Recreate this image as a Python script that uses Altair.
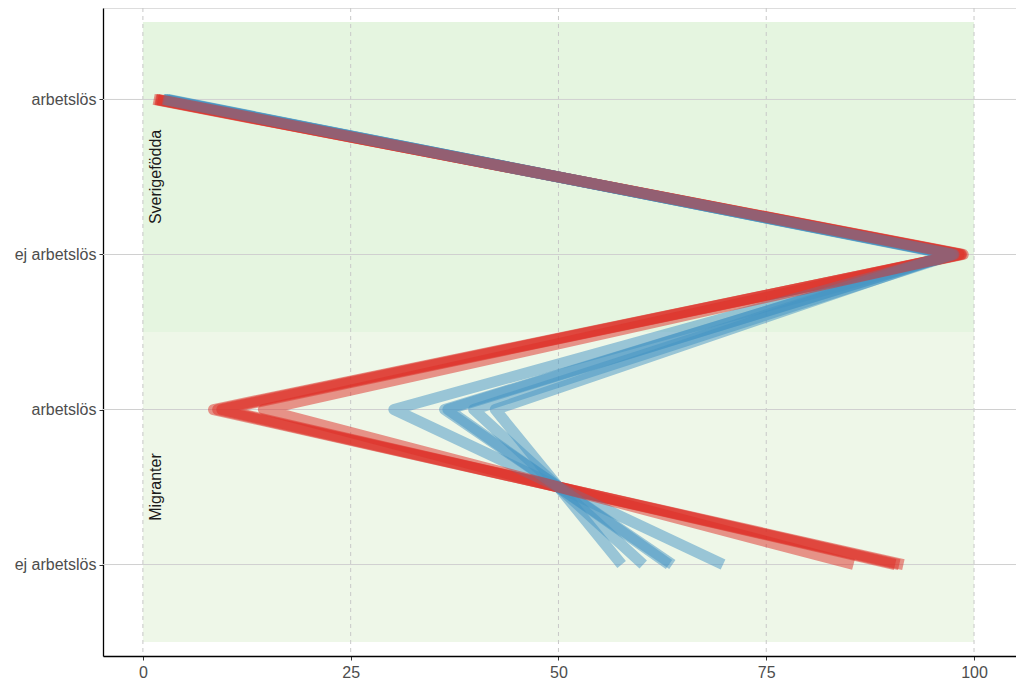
import altair as alt
import pandas as pd

# y positions of the four categories (top to bottom)
positions = [4, 3, 2, 1]
tick_labels = ["arbetslös", "ej arbetslös", "arbetslös", "ej arbetslös"]
group_names = ["Sverigefödda", "Migranter"]
group_label_pos = [3.5, 1.5]
x_ticks = [0, 25, 50, 75, 100]

# dark red series: Sverigefödda arbetslös, ej arbetslös, Migranter arbetslös, ej arbetslös
red_sv_arb = [1.3, 1.5, 1.6]
red_sv_ej = [98.7, 98.5, 98.4]
red_mig_arb = [8.5, 9.0, 9.5]
red_mig_ej = [91.5, 91.0, 90.5]

# light red series
lred_sv_arb = [1.8]
lred_sv_ej = [98.2]
lred_mig_arb = [14.5]
lred_mig_ej = [85.5]

# blue series
blue_sv_arb = [2.4, 2.6, 2.8, 2.5, 3.0]
blue_sv_ej = [97.6, 97.4, 97.2, 97.5, 97.0]
blue_mig_arb = [30.2, 36.3, 36.7, 39.8, 42.4]
blue_mig_ej = [69.8, 63.7, 63.3, 60.2, 57.6]


def build(prefix, cols):
    rows = []
    for i, vals in enumerate(zip(*cols)):
        for step, (p, v) in enumerate(zip(positions, vals)):
            rows.append({"line": f"{prefix}{i}", "step": step, "pos": p, "val": v})
    return pd.DataFrame(rows)


red_df = build("r", [red_sv_arb, red_sv_ej, red_mig_arb, red_mig_ej])
lred_df = build("l", [lred_sv_arb, lred_sv_ej, lred_mig_arb, lred_mig_ej])
blue_df = build("b", [blue_sv_arb, blue_sv_ej, blue_mig_arb, blue_mig_ej])

bg_df = pd.DataFrame({
    "x0": [0, 0], "x1": [100, 100],
    "y0": [2.5, 0.5], "y1": [4.5, 2.5],
    "fill": ["#e5f5e0", "#eef7e8"],
})
label_df = pd.DataFrame({"name": group_names, "pos": group_label_pos, "val": [1.6, 1.6]})
xgrid_df = pd.DataFrame({"val": x_ticks})
ygrid_df = pd.DataFrame({"pos": positions})

W, H = 913, 648
xscale = alt.Scale(domain=[-4.8, 105.05], nice=False, zero=False)
yscale = alt.Scale(domain=[0.41, 4.59], nice=False, zero=False)

label_expr = "datum.value == 4 || datum.value == 2 ? 'arbetslös' : 'ej arbetslös'"
axis_style = dict(
    grid=False, title=None,
    domainColor="#000000", domainWidth=1.3,
    tickColor="#333333", tickSize=4, tickWidth=1,
    labelFont="Liberation Sans", labelFontSize=16, labelColor="#4d4d4d",
)
xax = alt.Axis(values=x_ticks, labelPadding=4, **axis_style)
yax = alt.Axis(values=positions, labelExpr=label_expr, labelPadding=3, **axis_style)


def X(f):
    return alt.X(f, scale=xscale, axis=xax)


def Y(f):
    return alt.Y(f, scale=yscale, axis=yax)


bg = alt.Chart(bg_df).mark_rect().encode(
    x=X("x0:Q"), x2="x1:Q",
    y=Y("y0:Q"), y2="y1:Q",
    color=alt.Color("fill:N", scale=None),
)

xgrid = alt.Chart(xgrid_df).mark_rule(color="#c8c8c8", strokeDash=[4, 4], strokeWidth=1).encode(
    x=X("val:Q"),
    y=alt.value(0), y2=alt.value(H),
)

ygrid = alt.Chart(ygrid_df).mark_rule(color="#d0d0d0", strokeWidth=1).encode(
    y=Y("pos:Q"),
    x=alt.value(0), x2=alt.value(W),
)


def lines(df, color):
    return alt.Chart(df).mark_line(
        color=color, opacity=0.5, strokeWidth=11, strokeCap="butt", strokeJoin="round"
    ).encode(
        x=X("val:Q"),
        y=Y("pos:Q"),
        detail="line:N",
        order=alt.Order("step:Q"),
    )


red = lines(red_df, "#de2d26")
blue = lines(blue_df, "#4393c3")
lred = lines(lred_df, "#de2d26")

labels = alt.Chart(label_df).mark_text(
    angle=270, fontSize=16, font="Liberation Sans", color="#1a1a1a",
    align="center", baseline="middle"
).encode(
    x=X("val:Q"),
    y=Y("pos:Q"),
    text="name:N",
)

chart = alt.layer(bg, xgrid, ygrid, red, blue, lred, labels).properties(
    width=W, height=H,
    autosize=alt.AutoSizeParams(type="none"),
    padding={"left": 95, "top": 0, "right": 0, "bottom": 24},
).configure_view(strokeWidth=0).configure(background="white")

chart.save("out.html", embed_options={"renderer": "svg", "actions": False})
